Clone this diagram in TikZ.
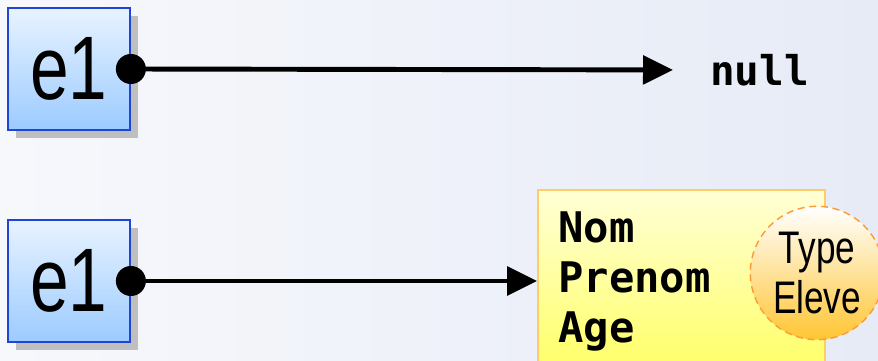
\documentclass[tikz,border=0pt]{standalone}
\usepackage{fontspec}
\setmainfont{Liberation Sans}
\setmonofont{DejaVu Sans Mono}
\usetikzlibrary{arrows.meta,shadows}

\definecolor{bgleft}{HTML}{F7F8FC}
\definecolor{bgright}{HTML}{E6EBF6}
\definecolor{reftop}{HTML}{E8F3FF}
\definecolor{refbot}{HTML}{9CCBFF}
\definecolor{refline}{HTML}{1F45D6}
\definecolor{objtop}{HTML}{FFFFD6}
\definecolor{objbot}{HTML}{FFFF66}
\definecolor{objline}{HTML}{FFCC66}
\definecolor{typeline}{HTML}{FF9933}
\definecolor{typebot}{HTML}{FFC533}

\newcommand{\narrow}[1]{\scalebox{0.77}[1]{#1}}

\tikzset{
  ref/.style={draw=refline, line width=1.5pt, top color=reftop, bottom color=refbot,
    minimum size=3.66cm, inner sep=0pt,
    drop shadow={shadow xshift=0.24cm, shadow yshift=-0.24cm, fill=black!25, opacity=1},
    font=\fontsize{77}{77}\selectfont},
  dot/.style={circle, fill=black, minimum size=0.9cm, inner sep=0pt},
  ptr/.style={line width=4.2pt, -{Triangle[length=0.9cm,width=0.85cm]}},
  field/.style={anchor=base west, inner sep=0pt, font=\fontsize{36}{36}\selectfont\ttfamily\bfseries},
  obj/.style={draw=objline, line width=1.5pt, top color=objtop, bottom color=objbot,
    minimum width=8.61cm, minimum height=5.46cm},
  kind/.style={circle, draw=typeline, line width=1.2pt, dash pattern=on 6pt off 4pt,
    top color=white, bottom color=typebot, minimum size=4cm, inner sep=0pt, align=center,
    font=\fontsize{39}{42.5}\selectfont}
}

\begin{document}
\begin{tikzpicture}[x=0.03cm,y=-0.03cm]
\clip (0,0) rectangle (878,360);
\shade[left color=bgleft,right color=bgright] (0,0) rectangle (878,360);

\node[ref] (e1a) at (69,69) {\narrow{e1}};
\node[ref] (e1b) at (69,281) {\narrow{e1}};
\node[dot] (d1) at (e1a.east) {};
\node[dot] (d2) at (e1b.east) {};

\node[anchor=west, inner sep=0pt, font=\fontsize{35}{35}\selectfont\ttfamily\bfseries] (null) at (710,70) {null};
\draw[ptr,shorten >=1.11cm] (d1.center) -- (null.west);

\node[obj] (obj) at (681.5,281) {};
\draw[ptr] (d2.center) -- (obj.west);

\foreach \f/\y in {Nom/242,Prenom/292,Age/342}
  \node[field] (\f) at (558,\y) {\f};

\node[kind] (type) at (817,273) {\narrow{Type}\\\narrow{Eleve}};
\end{tikzpicture}
\end{document}
